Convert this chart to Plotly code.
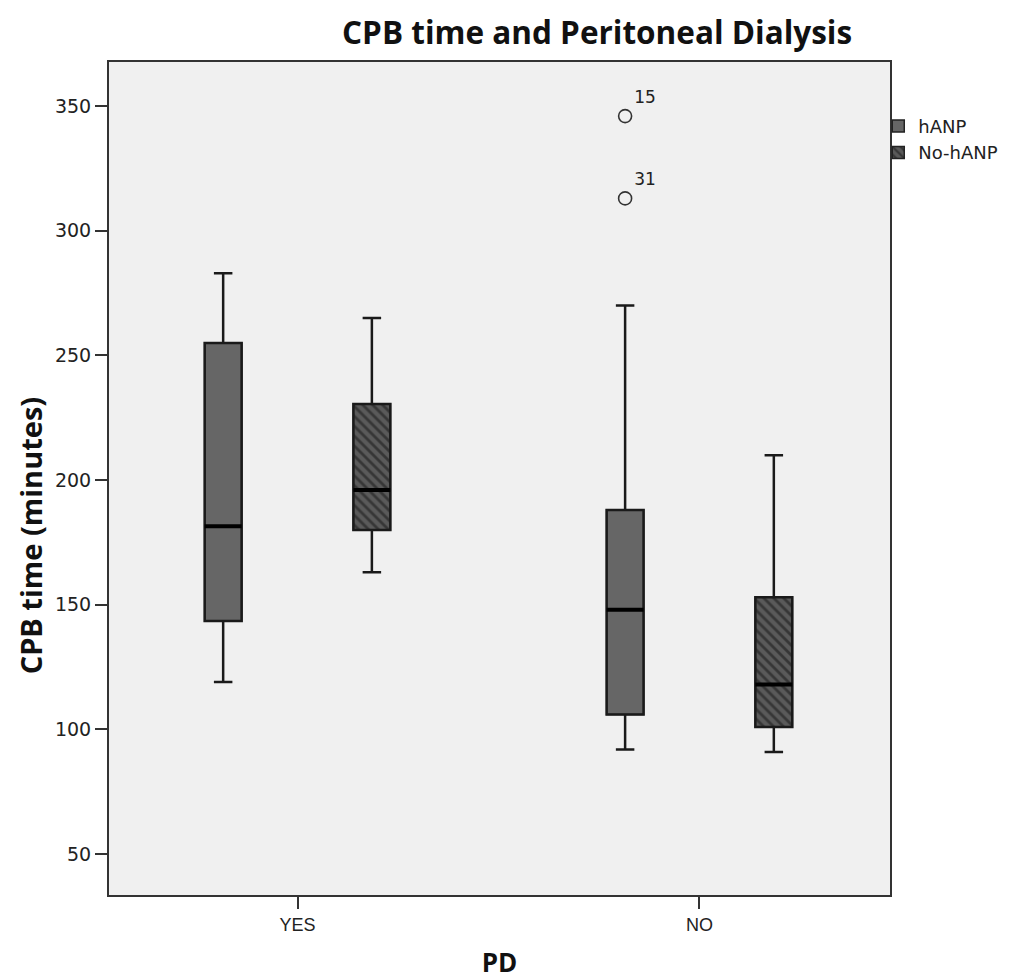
import plotly.graph_objects as go

# ---------------- data ----------------
groups = ["YES", "NO"]
series_names = ["hANP", "No-hANP"]

hanp_lower = [119, 92]
hanp_q1 = [143.5, 106]
hanp_median = [181.5, 148]
hanp_q3 = [255, 188]
hanp_upper = [283, 270]

nohanp_lower = [163, 91]
nohanp_q1 = [180, 101]
nohanp_median = [196, 118]
nohanp_q3 = [230.5, 153]
nohanp_upper = [265, 210]

outlier_group = ["NO", "NO"]
outlier_series = ["hANP", "hANP"]
outlier_values = [346, 313]
outlier_labels = ["15", "31"]

y_ticks = [50, 100, 150, 200, 250, 300, 350]

# ---------------- styling ----------------
offsets = {"hANP": -0.185, "No-hANP": 0.185}
box_w = 0.092
fills = {"hANP": "#666666", "No-hANP": "#5a5a5a"}
patterns = {
    "hANP": dict(shape=""),
    "No-hANP": dict(shape="\\", fgcolor="#111111", bgcolor="#5a5a5a", size=7, solidity=0.4),
}

stats = {
    "hANP": (hanp_lower, hanp_q1, hanp_median, hanp_q3, hanp_upper),
    "No-hANP": (nohanp_lower, nohanp_q1, nohanp_median, nohanp_q3, nohanp_upper),
}

fig = go.Figure()

for name in series_names:
    lo, q1, med, q3, up = stats[name]
    pos = [i + offsets[name] for i in range(len(groups))]
    # filled (and hatched) box bodies
    fig.add_trace(go.Bar(
        x=pos, y=[b - a for a, b in zip(q1, q3)], base=q1, width=box_w,
        name=name,
        marker=dict(color=fills[name], line=dict(color="#222222", width=1.5),
                    pattern=patterns[name]),
        hoverinfo="skip", showlegend=True,
    ))

for name in series_names:
    lo, q1, med, q3, up = stats[name]
    pos = [i + offsets[name] for i in range(len(groups))]
    fig.add_trace(go.Box(
        x=pos, q1=q1, median=med, q3=q3, lowerfence=lo, upperfence=up,
        width=box_w, whiskerwidth=0.5, boxpoints=False,
        fillcolor="rgba(0,0,0,0)", line=dict(color="#1a1a1a", width=2.5),
        showlegend=False, hoverinfo="skip", name=name,
    ))
    # thick median bars
    mx, my = [], []
    for p, m in zip(pos, med):
        mx += [p - box_w / 2, p + box_w / 2, None]
        my += [m, m, None]
    fig.add_trace(go.Scatter(x=mx, y=my, mode="lines",
                             line=dict(color="#000000", width=4),
                             showlegend=False, hoverinfo="skip"))

ox = [groups.index(g) + offsets[s] for g, s in zip(outlier_group, outlier_series)]
fig.add_trace(go.Scatter(
    x=ox, y=outlier_values, mode="markers+text", text=outlier_labels,
    textposition="top right",
    textfont=dict(family="DejaVu Sans", size=17, color="#222222"),
    marker=dict(symbol="circle-open", size=13, color="#333333", line=dict(width=1.6)),
    showlegend=False, hoverinfo="skip",
))

fig.update_layout(
    width=1007, height=978,
    paper_bgcolor="white", plot_bgcolor="#f0f0f0",
    margin=dict(l=101, r=123, t=54, b=91),
    barmode="overlay", boxmode="overlay",
    title=dict(text="<b>CPB time and Peritoneal Dialysis</b>", x=0.585, xanchor="center",
               y=0.974, yanchor="middle",
               font=dict(family="Open Sans", size=31.5, color="#111111")),
    legend=dict(x=0.985, xanchor="left", y=0.945, yanchor="top",
                bgcolor="rgba(0,0,0,0)", font=dict(family="DejaVu Sans", size=18, color="#222222"),
                tracegroupgap=0, itemclick=False),
    showlegend=True,
    annotations=[dict(
        text="<b>CPB time (minutes)</b>", textangle=-90, showarrow=False,
        xref="paper", yref="paper", x=-0.1009, y=0.432, xanchor="center", yanchor="middle",
        font=dict(family="Open Sans", size=29, color="#111111"),
    )],
)

fig.update_xaxes(
    range=[-0.469, 1.474], tickmode="array", tickvals=list(range(len(groups))), ticktext=groups,
    ticks="outside", ticklen=12, tickwidth=1.5, tickcolor="#333333",
    showline=True, linecolor="#333333", linewidth=2, mirror=True,
    showgrid=False, zeroline=False, automargin=False,
    tickfont=dict(family="Liberation Sans", size=18, color="#222222"),
    title=dict(text="<b>PD</b>", font=dict(family="Open Sans", size=26, color="#111111"), standoff=20),
)
fig.update_yaxes(
    range=[33.6, 367.7], tickmode="array", tickvals=y_ticks,
    ticks="outside", ticklen=12, tickwidth=1.5, tickcolor="#333333",
    showline=True, linecolor="#333333", linewidth=2, mirror=True,
    showgrid=False, zeroline=False, automargin=False,
    tickfont=dict(family="DejaVu Sans", size=19, color="#222222"),
)

fig.write_html("out.html")
